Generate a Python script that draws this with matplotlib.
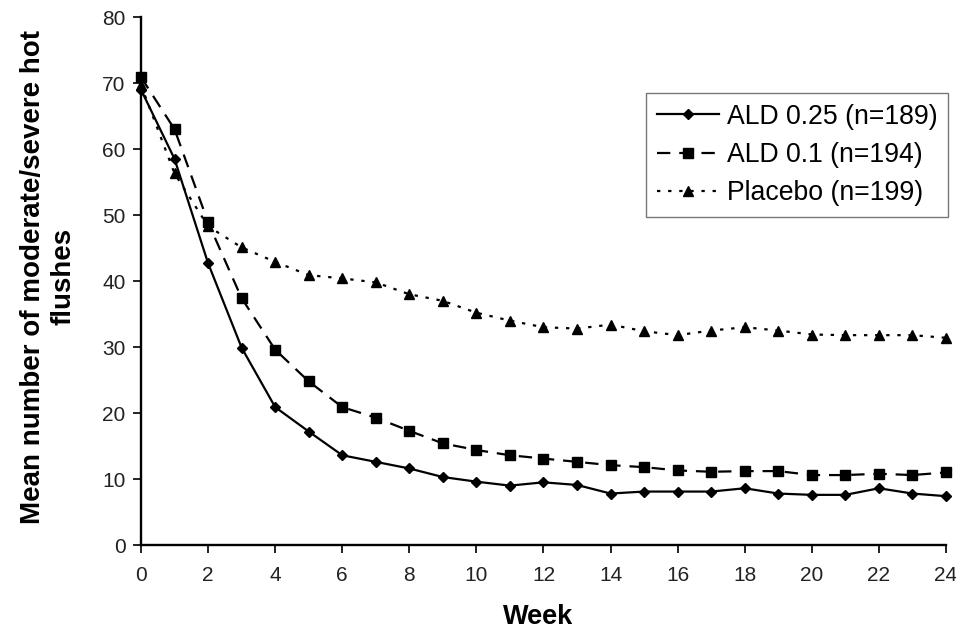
import numpy as np
import matplotlib
matplotlib.use("Agg")
import matplotlib.pyplot as plt

plt.rcParams['font.family'] = ['Liberation Sans', 'DejaVu Sans']

weeks = list(range(0, 25))

ald_025 = [69.0, 58.5, 42.7, 29.9, 20.9, 17.2, 13.6, 12.6, 11.6, 10.3, 9.6, 9.0, 9.5,
           9.1, 7.8, 8.1, 8.1, 8.1, 8.6, 7.8, 7.6, 7.6, 8.6, 7.8, 7.4]
ald_01 = [70.9, 63.0, 48.9, 37.4, 29.6, 24.8, 20.9, 19.3, 17.3, 15.4, 14.4, 13.6, 13.1,
          12.6, 12.1, 11.8, 11.3, 11.1, 11.2, 11.2, 10.6, 10.6, 10.8, 10.6, 11.0]
placebo = [69.7, 56.3, 48.3, 45.1, 42.9, 40.9, 40.4, 39.8, 38.0, 37.0, 35.2, 34.0, 33.0,
           32.8, 33.4, 32.4, 31.8, 32.5, 33.0, 32.5, 31.9, 31.8, 31.8, 31.8, 31.4]

labels = ['ALD 0.25 (n=189)', 'ALD 0.1 (n=194)', 'Placebo (n=199)']
week_ticks = list(range(0, 25, 2))
y_ticks = list(range(0, 81, 10))

fig = plt.figure(figsize=(9.56, 6.33), dpi=100)
ax = fig.add_axes([0.1475, 0.139, 0.842, 0.834])

ax.plot(weeks, ald_025, color='black', lw=1.6, ls='-', marker='D', ms=5,
        label=labels[0])
ax.plot(weeks, ald_01, color='black', lw=1.6, ls=(0, (6, 4)), marker='s', ms=7,
        label=labels[1])
ax.plot(weeks, placebo, color='black', lw=1.6, ls=(0, (1.5, 3.5)), marker='^', ms=7.5,
        label=labels[2])

ax.set_xlim(0, 24)
ax.set_ylim(0, 80)
ax.set_xticks(week_ticks)
ax.set_yticks(y_ticks)
ax.tick_params(direction='out', length=6, width=1.4, labelsize=15, color='#222222',
               labelcolor='#222222')
ax.tick_params(axis='x', pad=9)
ax.tick_params(axis='y', pad=5)
ax.spines['top'].set_visible(False)
ax.spines['right'].set_visible(False)
ax.spines['left'].set_linewidth(1.7)
ax.spines['bottom'].set_linewidth(1.7)
for line in ax.get_lines():
    line.set_clip_on(False)

ax.set_xlabel('Week', fontsize=19.5, fontweight='bold')
ax.xaxis.set_label_coords(0.493, -0.112)
ax.set_ylabel('Mean number of moderate/severe hot\nflushes', fontsize=20,
              fontweight='bold', linespacing=1.25)
ax.yaxis.set_label_coords(-0.08, 0.508)

leg = ax.legend(loc='upper left', bbox_to_anchor=(646 / 956, 1 - 93 / 633),
                bbox_transform=fig.transFigure, fontsize=19.2,
                frameon=True, fancybox=False, edgecolor='#555555',
                handlelength=2.35, handletextpad=0.28, borderpad=0.4,
                labelspacing=0.46, borderaxespad=0)
leg.get_frame().set_linewidth(1.0)

fig.savefig('out.png', dpi=100)
